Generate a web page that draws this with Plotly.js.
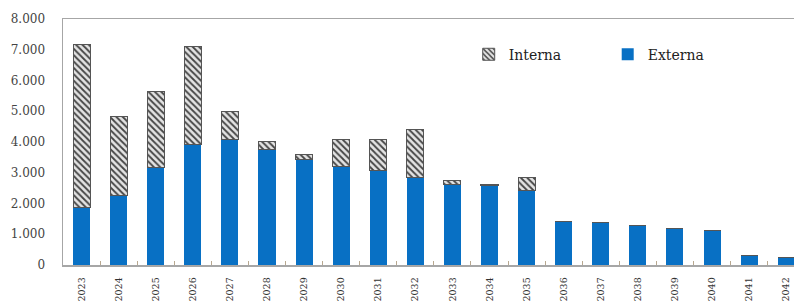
<!DOCTYPE html>
<html>
<head>
<meta charset="utf-8">
<script src="https://cdn.plot.ly/plotly-3.0.1.min.js"></script>
<style>
html,body{margin:0;padding:0;overflow:hidden;background:#fff;width:794px;height:302px;}
#chart{width:794px;height:302px;}
</style>
</head>
<body>
<div id="chart"></div>
<script>
const years = ["2023","2024","2025","2026","2027","2028","2029","2030","2031","2032","2033","2034","2035","2036","2037","2038","2039","2040","2041","2042"];
const externa = [1870,2270,3180,3930,4070,3750,3420,3200,3080,2830,2620,2570,2430,1420,1370,1290,1190,1130,310,260];
const total   = [7170,4820,5650,7100,4990,4020,3600,4080,4080,4420,2740,2630,2850,1420,1370,1290,1190,1130,310,260];
const interna = total.map((t,i)=>t-externa[i]);
const yTicks = [0,1000,2000,3000,4000,5000,6000,7000,8000];

const traces = [
  {type:'bar', name:'Externa', x:years, y:externa,
   marker:{color:'#0870c4', line:{width:0}}, hoverinfo:'y'},
  {type:'bar', name:'Interna', x:years, y:interna,
   marker:{color:'#ffffff', line:{color:'#555555', width:1},
           pattern:{shape:'\\', fgcolor:'#444444', bgcolor:'#e4e4e4', size:4.5, solidity:0.4}},
   hoverinfo:'y'}
];

const layout = {
  width:794, height:302,
  margin:{l:63, r:0, t:19, b:37, autoexpand:false},
  barmode:'stack', bargap:0.54,
  separators:',.',
  paper_bgcolor:'#ffffff', plot_bgcolor:'#ffffff',
  font:{family:'DejaVu Serif, serif', color:'#333333'},
  showlegend:true,
  legend:{orientation:'h', traceorder:'reversed', x:0.555, xanchor:'left', y:0.855, yanchor:'middle',
          font:{size:14, family:'DejaVu Serif, serif', color:'#222'}, bgcolor:'rgba(0,0,0,0)',
          entrywidth:94, entrywidthmode:'pixels', itemwidth:30},
  xaxis:{type:'category', range:[-0.5,19.21], showline:true, linecolor:'#a6a6a6', linewidth:1.5, mirror:true,
         ticks:'inside', tickson:'boundaries', ticklen:4, tickcolor:'#b8a890',
         tickangle:-90, tickfont:{size:9.5, family:'DejaVu Serif, serif', color:'#333'},
         showgrid:false, zeroline:false, ticklabelstandoff:7, automargin:false},
  yaxis:{range:[0,8000], tickvals:yTicks, tickformat:',d', showline:true, linecolor:'#a6a6a6', linewidth:1.5,
         mirror:false, ticks:'', showgrid:false, zeroline:false, automargin:false,
         tickfont:{size:12, family:'DejaVu Serif, serif', color:'#444'}, ticklabelstandoff:14}
};

Plotly.newPlot('chart', traces, layout, {displayModeBar:false, staticPlot:true});
</script>
</body>
</html>
